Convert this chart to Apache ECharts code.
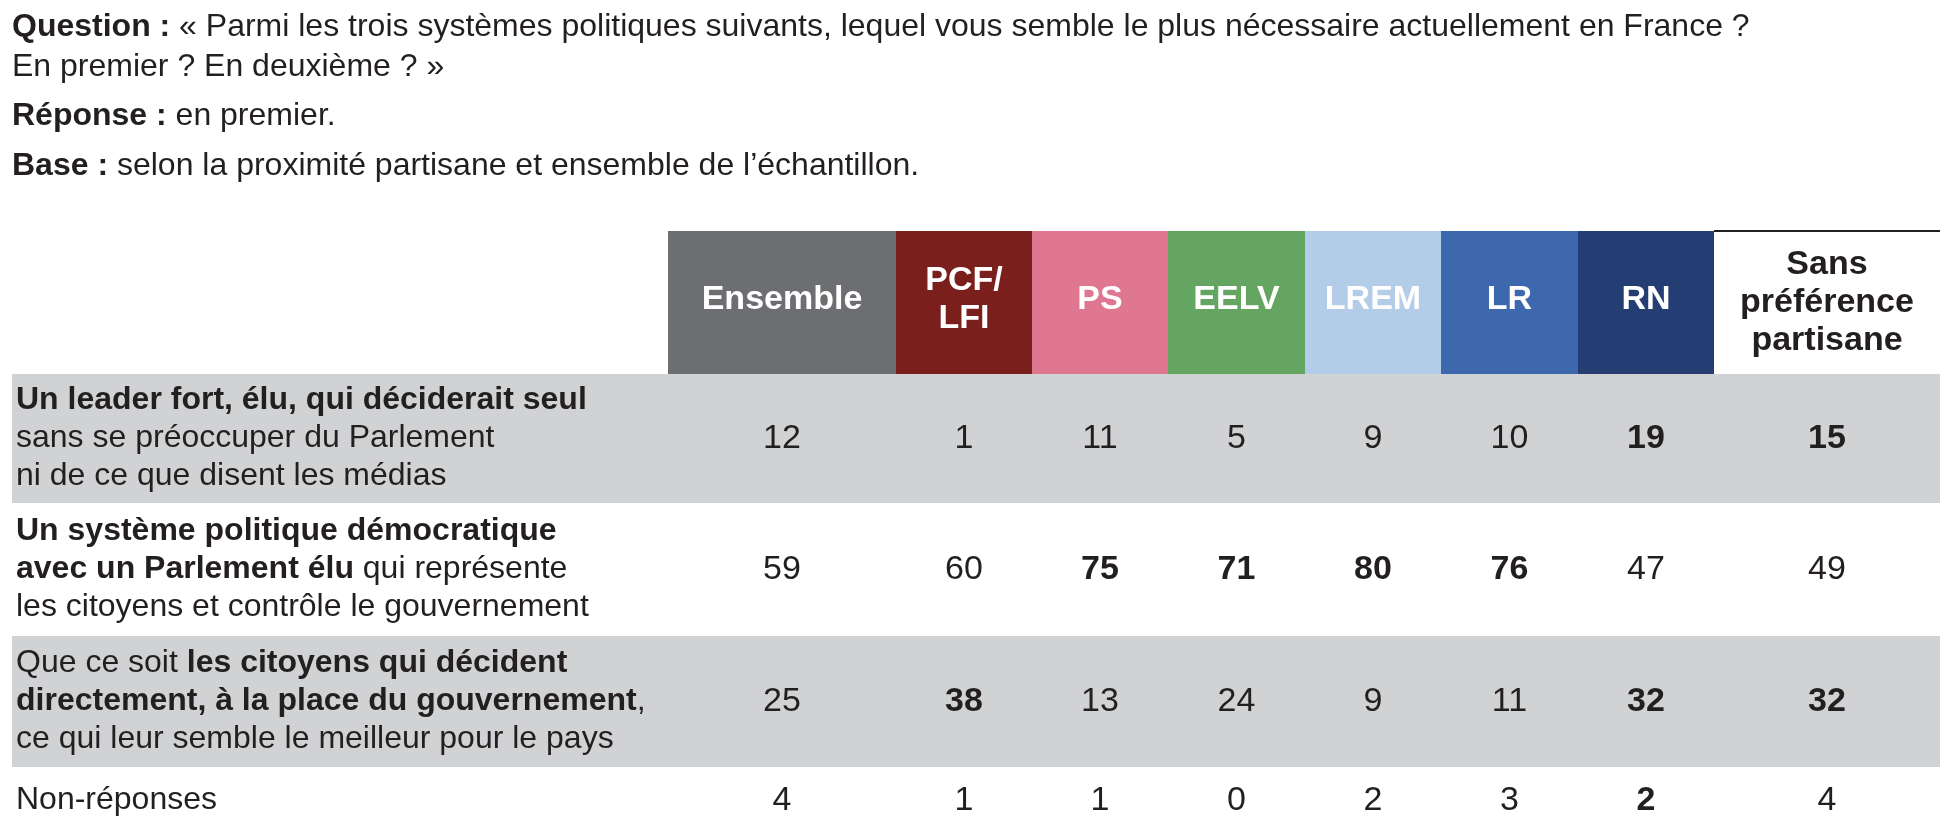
<!DOCTYPE html>
<html>
<head>
<meta charset="utf-8">
<title>Systèmes politiques</title>
<script src="https://cdn.jsdelivr.net/npm/echarts@6/dist/echarts.min.js"></script>
<style>body{margin:0;background:#fff}#main{width:1950px;height:834px}</style>
</head>
<body>
<div id="main"></div>
<script>
// colonnes et couleurs
var columns = ['Ensemble', 'PCF/\nLFI', 'PS', 'EELV', 'LREM', 'LR', 'RN', 'Sans\npréférence\npartisane'];
var colColors = ['#6d6e71', '#7a1f1c', '#e07790', '#63a561', '#b3cde8', '#3d68ad', '#243d73', '#ffffff'];
var rowLabels = [
  '{b|Un leader fort, élu, qui déciderait seul}\n{n|sans se préoccuper du Parlement}\n{n|ni de ce que disent les médias}',
  '{b|Un système politique démocratique}\n{b|avec un Parlement élu}{n| qui représente}\n{n|les citoyens et contrôle le gouvernement}',
  '{n|Que ce soit }{b|les citoyens qui décident}\n{b|directement, à la place du gouvernement}{n|,}\n{n|ce qui leur semble le meilleur pour le pays}',
  '{n|Non-réponses}'
];
var values = [
  [12, 1, 11, 5, 9, 10, 19, 15],
  [59, 60, 75, 71, 80, 76, 47, 49],
  [25, 38, 13, 24, 9, 11, 32, 32],
  [4, 1, 1, 0, 2, 3, 2, 4]
];
var bold = [
  [0, 0, 0, 0, 0, 0, 1, 1],
  [0, 0, 1, 1, 1, 1, 0, 0],
  [0, 1, 0, 0, 0, 0, 1, 1],
  [0, 0, 0, 0, 0, 0, 1, 0]
];

// mise en page (pixels)
var colEdges = [668, 896, 1032, 1168, 1305, 1441, 1578, 1714, 1940];
var rowEdges = [374, 503, 636, 767, 834];
var headTop = 231;
var FONT = '"Liberation Sans Narrow", "Liberation Sans", sans-serif';

var headerData = columns.map(function (c, i) { return [i]; });
var cellData = [];
values.forEach(function (row, r) {
  row.forEach(function (v, c) { cellData.push([c, r, v, bold[r][c]]); });
});
var rowData = rowLabels.map(function (l, r) { return [r]; });

var titleRich = { b: { font: 'bold 32px ' + FONT, fill: '#231f20' }, n: { font: '32px ' + FONT, fill: '#231f20' } };

var chart = echarts.init(document.getElementById('main'));
chart.setOption({
  animation: false,
  grid: { left: 0, right: 0, top: 0, bottom: 0 },
  xAxis: { type: 'value', min: 0, max: 1950, show: false },
  yAxis: { type: 'value', min: 0, max: 834, inverse: true, show: false },
  graphic: [
    { type: 'text', left: 12, top: 7, style: { rich: titleRich, lineHeight: 40,
      text: '{b|Question :}{n| « Parmi les trois systèmes politiques suivants, lequel vous semble le plus nécessaire actuellement en France ?}\n{n|En premier ? En deuxième ? »}' } },
    { type: 'text', left: 12, top: 100, style: { rich: titleRich, text: '{b|Réponse :}{n| en premier.}' } },
    { type: 'text', left: 12, top: 150, style: { rich: titleRich, text: '{b|Base :}{n| selon la proximité partisane et ensemble de l’échantillon.}' } }
  ],
  series: [
    {
      type: 'custom', data: rowData, encode: { x: -1, y: -1 },
      renderItem: function (params, api) {
        var r = api.value(0);
        var p0 = api.coord([12, rowEdges[r]]), p1 = api.coord([1940, rowEdges[r + 1]]);
        var children = [];
        if (r % 2 === 0) {
          children.push({ type: 'rect', shape: { x: p0[0], y: p0[1], width: p1[0] - p0[0], height: p1[1] - p0[1] }, style: { fill: '#d1d2d4' } });
        }
        children.push({ type: 'text', x: p0[0] + 4, y: (p0[1] + p1[1]) / 2, style: {
          text: rowLabels[r], verticalAlign: 'middle',
          rich: { b: { font: 'bold 32px ' + FONT, fill: '#231f20', lineHeight: 38 }, n: { font: '32px ' + FONT, fill: '#231f20', lineHeight: 38 } }
        } });
        return { type: 'group', children: children };
      }
    },
    {
      type: 'custom', data: headerData, encode: { x: -1, y: -1 },
      renderItem: function (params, api) {
        var c = api.value(0);
        var p0 = api.coord([colEdges[c], headTop]), p1 = api.coord([colEdges[c + 1], rowEdges[0]]);
        var last = c === columns.length - 1;
        var children = [
          { type: 'rect', shape: { x: p0[0], y: p0[1], width: p1[0] - p0[0], height: p1[1] - p0[1] }, style: { fill: colColors[c] } },
          { type: 'text', x: (p0[0] + p1[0]) / 2, y: last ? (p0[1] + p1[1]) / 2 : 300, style: {
            text: columns[c], align: 'center', verticalAlign: 'middle', lineHeight: 38,
            font: 'bold 34px ' + FONT, fill: last ? '#231f20' : '#ffffff' } }
        ];
        if (last) {
          children.push({ type: 'line', shape: { x1: p0[0], y1: p0[1], x2: p1[0], y2: p0[1] }, style: { stroke: '#231f20', lineWidth: 2 } });
        }
        return { type: 'group', children: children };
      }
    },
    {
      type: 'custom', data: cellData, encode: { x: -1, y: -1 },
      renderItem: function (params, api) {
        var c = api.value(0), r = api.value(1);
        var x = (colEdges[c] + colEdges[c + 1]) / 2, y = (rowEdges[r] + rowEdges[r + 1]) / 2;
        var p = api.coord([x, y]);
        return { type: 'text', x: p[0], y: p[1], style: {
          text: String(api.value(2)), align: 'center', verticalAlign: 'middle',
          font: (api.value(3) ? 'bold ' : '') + '34px ' + FONT, fill: '#231f20' } };
      }
    }
  ]
});
</script>
</body>
</html>
